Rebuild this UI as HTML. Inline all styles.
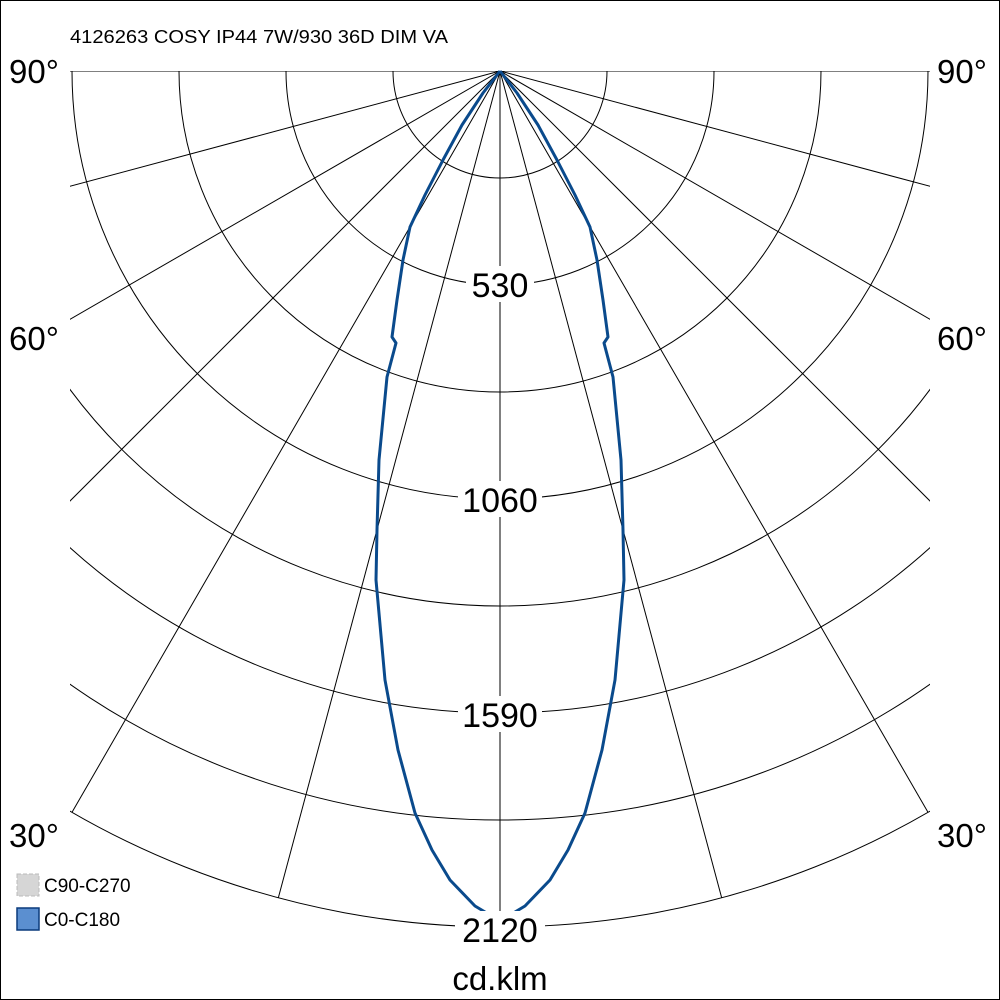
<!DOCTYPE html>
<html><head><style>
html,body{margin:0;padding:0;background:#fff;overflow:hidden}
svg{display:block}
text{font-family:"Liberation Sans",Arial,sans-serif}
</style></head><body>
<svg width="1000" height="1000" viewBox="0 0 1000 1000">
<rect x="0.5" y="0.5" width="999" height="999" fill="#fff" stroke="#000"/>
<defs>
<clipPath id="c"><rect x="70" y="71" width="860" height="929"/></clipPath>
<clipPath id="s"><circle cx="500" cy="71" r="856"/></clipPath>
</defs>
<g clip-path="url(#c)" fill="none" stroke="#000" stroke-width="1">
<circle cx="500" cy="71" r="107"/><circle cx="500" cy="71" r="214"/><circle cx="500" cy="71" r="321"/><circle cx="500" cy="71" r="428"/>
<circle cx="500" cy="71" r="535"/><circle cx="500" cy="71" r="642"/><circle cx="500" cy="71" r="749"/><circle cx="500" cy="71" r="856"/>
<g clip-path="url(#s)">
<line x1="500" y1="71" x2="500" y2="1071"/>
<line x1="500" y1="71" x2="241" y2="1037"/><line x1="500" y1="71" x2="759" y2="1037"/>
<line x1="500" y1="71" x2="0" y2="937"/><line x1="500" y1="71" x2="1000" y2="937"/>
<line x1="500" y1="71" x2="-207" y2="778"/><line x1="500" y1="71" x2="1207" y2="778"/>
<line x1="500" y1="71" x2="-366" y2="571"/><line x1="500" y1="71" x2="1366" y2="571"/>
<line x1="500" y1="71" x2="-466" y2="330"/><line x1="500" y1="71" x2="1466" y2="330"/>
<line x1="0" y1="71" x2="1000" y2="71"/>
</g>
</g>
<polyline fill="none" stroke="#0a4a8c" stroke-width="3" stroke-linejoin="round" points="500,71 483,93 462,125 443,160 425,195 410,227 403,260 397,300 392,337 396,343 387,377 379,460 377,530 376,580 385,680 398,750 415,813 432,850 450,880 475,906 500,921 525,906 550,880 568,850 585,813 602,750 615,680 624,580 623,530 621,460 613,377 604,343 608,337 603,300 597,260 590,227 575,195 557,160 538,125 517,93 500,71"/>
<g font-size="34" text-anchor="middle" fill="#000">
<rect x="466" y="266" width="68" height="36" fill="#fff"/><text x="500" y="297">530</text>
<rect x="458" y="481" width="84" height="36" fill="#fff"/><text x="500" y="512">1060</text>
<rect x="458" y="696" width="84" height="36" fill="#fff"/><text x="500" y="727">1590</text>
<rect x="455" y="911" width="90" height="36" fill="#fff"/><text x="500" y="942">2120</text>
<text x="500" y="990" font-size="33">cd.klm</text>
</g>
<g font-size="33" fill="#000">
<text x="9" y="83">90°</text><text x="937" y="83">90°</text>
<text x="9" y="350">60°</text><text x="937" y="350">60°</text>
<text x="9" y="847">30°</text><text x="937" y="847">30°</text>
</g>
<text x="70" y="43" font-size="18" textLength="378" lengthAdjust="spacingAndGlyphs">4126263 COSY IP44 7W/930 36D DIM VA</text>
<rect x="17" y="874" width="22" height="22" fill="#d6d6d6" stroke="#bbb" stroke-dasharray="4,2"/>
<text x="44" y="892" font-size="19">C90-C270</text>
<rect x="17" y="908" width="22" height="22" fill="#5b8fd0" stroke="#0a3a7c" stroke-width="1.5"/>
<text x="44" y="926" font-size="19">C0-C180</text>
</svg>
</body></html>
